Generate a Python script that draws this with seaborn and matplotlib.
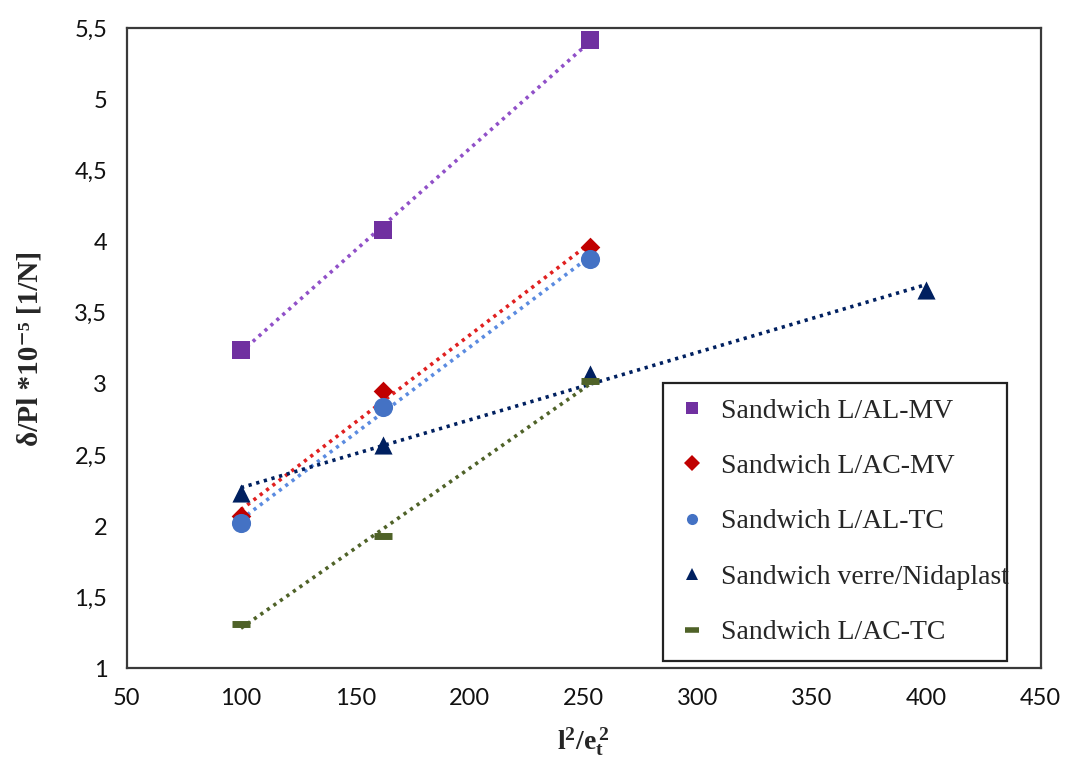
import numpy as np
import matplotlib
matplotlib.use("Agg")
import matplotlib.pyplot as plt
from matplotlib.lines import Line2D
from matplotlib.ticker import FuncFormatter
import seaborn as sns

# data
x_vals = [100, 162, 253]
x_nida = [100, 162, 253, 400]
al_mv = [3.24, 4.08, 5.42]
ac_mv = [2.07, 2.95, 3.96]
al_tc = [2.02, 2.84, 3.88]
nidaplast = [2.23, 2.57, 3.07, 3.66]
ac_tc = [1.31, 1.93, 3.02]

labels = ["Sandwich L/AL-MV", "Sandwich L/AC-MV", "Sandwich L/AL-TC",
          "Sandwich verre/Nidaplast", "Sandwich L/AC-TC"]
colors = ["#7030A0", "#C00000", "#4472C4", "#002060", "#4F6228"]
line_colors = ["#9050C8", "#E02020", "#5B8BE0", "#002060", "#4F6228"]
markers = ["s", "D", "o", "^", "_"]
msizes = [160, 100, 190, 170, 180]

sns.set_style("white")
plt.rcParams["font.family"] = ["Liberation Serif", "DejaVu Serif"]
plt.rcParams["mathtext.fontset"] = "custom"
plt.rcParams["mathtext.rm"] = "Liberation Serif"
plt.rcParams["mathtext.bf"] = "Liberation Serif:bold"

fig = plt.figure(figsize=(10.65, 7.62), dpi=100)
ax = fig.add_axes([0.119, 0.123, 0.858, 0.840])

series = [(x_vals, al_mv), (x_vals, ac_mv), (x_vals, al_tc),
          (x_nida, nidaplast), (x_vals, ac_tc)]

for i, (xs, ys) in enumerate(series):
    skw = {"s": msizes[i], "color": colors[i], "alpha": 1, "zorder": 3}
    if markers[i] == "_":
        skw["linewidths"] = 5
    else:
        skw["linewidths"] = 0
    sns.regplot(x=np.array(xs), y=np.array(ys), ax=ax, ci=None, truncate=True,
                marker=markers[i], scatter_kws=skw,
                line_kws={"color": line_colors[i], "lw": 2.6,
                          "ls": (0, (0.9, 1.3)), "zorder": 2})

ax.set_xlim(50, 450)
ax.set_ylim(1, 5.5)
ax.set_xticks(np.arange(50, 451, 50))
ax.set_yticks(np.arange(1, 5.51, 0.5))
ax.yaxis.set_major_formatter(FuncFormatter(lambda v, p: ("%g" % v).replace(".", ",")))
ax.tick_params(length=0, pad=14, labelsize=17, colors="#111111")
for lab in ax.get_xticklabels() + ax.get_yticklabels():
    lab.set_family(["Lato", "DejaVu Sans"])

for sp in ax.spines.values():
    sp.set_visible(True)
    sp.set_color("#3a3a3a")
    sp.set_linewidth(1.6)

ax.set_xlabel(r"$\mathbf{l^2/e_t^{\,2}}$", fontsize=20, labelpad=12)
ax.set_ylabel("δ/Pl *10⁻⁵ [1/N]", fontsize=21, fontweight="bold", labelpad=22)

handles = [Line2D([], [], ls="none", marker=markers[i], color=colors[i],
                  markersize=8 if markers[i] != "_" else 10,
                  markeredgewidth=0 if markers[i] != "_" else 4)
           for i in range(5)]
leg = ax.legend(handles, labels, loc="lower left",
                bbox_to_anchor=(0.587, 0.012, 0.376, 0.438), mode="expand",
                fontsize=20, frameon=True, fancybox=False, framealpha=1,
                edgecolor="#222222", labelspacing=1.08, handlelength=1.0,
                handletextpad=0.55, borderpad=0.55, borderaxespad=0)
leg.get_frame().set_linewidth(1.6)

fig.savefig("out.png", dpi=100)
